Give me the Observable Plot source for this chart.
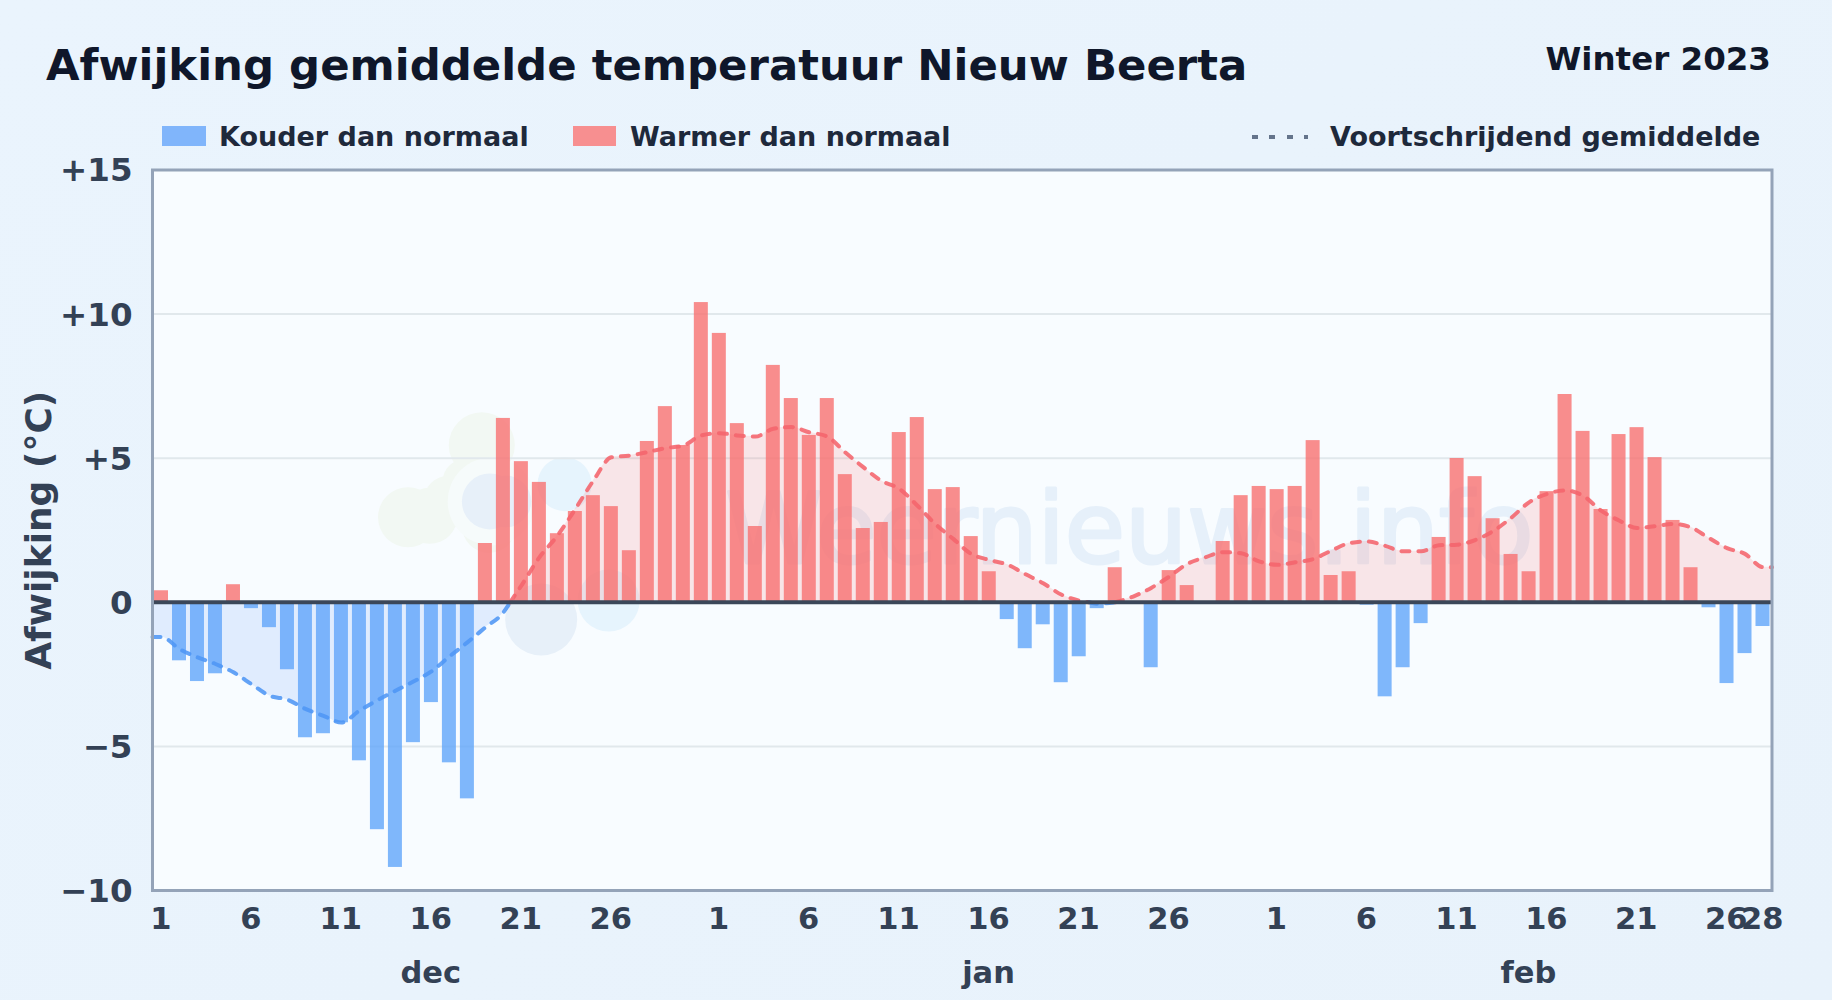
<!DOCTYPE html>
<html><head><meta charset="utf-8">
<script src="https://cdn.jsdelivr.net/npm/d3@7"></script>
<script src="https://cdn.jsdelivr.net/npm/@observablehq/plot@0.6"></script>
<style>
html,body{margin:0;padding:0;width:1832px;height:1000px;overflow:hidden}
body{background:linear-gradient(135deg,#eaf4fd,#e8f2fb);font-family:"DejaVu Sans",sans-serif;font-weight:700}
#head{position:relative;height:150px;width:1832px}
#head>*{position:absolute;white-space:nowrap}
#title{left:46px;top:40px;font-size:43.4px;line-height:50px;color:#0f172a}
#season{right:61px;top:40px;font-size:32.5px;line-height:38px;color:#0f172a}
.lg{top:120px;font-size:27px;line-height:34px;color:#1e293b}
.sw{top:126px;height:20px;width:44px}
#dots{left:1252px;top:135px;width:56px;height:4px;background:repeating-linear-gradient(90deg,#64748b 0 6px,transparent 6px 17.5px)}
svg{display:block}
</style></head><body>
<div id="head">
  <div id="title">Afwijking gemiddelde temperatuur Nieuw Beerta</div>
  <div id="season">Winter 2023</div>
  <div class="sw" style="left:162px;background:#80b5fb"></div><div class="lg" style="left:219px">Kouder dan normaal</div>
  <div class="sw" style="left:573px;width:43px;background:#f78f90"></div><div class="lg" style="left:630px">Warmer dan normaal</div>
  <div id="dots"></div><div class="lg" style="left:1330px">Voortschrijdend gemiddelde</div>
</div>
<div id="chart"></div>
<script>
const deviation = [0.4,-2.03,-2.75,-2.48,0.61,-0.22,-0.88,-2.34,-4.7,-4.56,-4.18,-5.5,-7.89,-9.2,-4.87,-3.48,-5.57,-6.82,2.04,6.38,4.88,4.16,2.38,3.15,3.7,3.32,1.79,5.58,6.79,5.44,10.4,
9.33,6.2,2.63,8.22,7.07,5.79,7.07,4.43,2.56,2.77,5.89,6.41,3.91,3.98,2.28,1.06,-0.6,-1.61,-0.78,-2.79,-1.89,-0.22,1.2,0,-2.27,1.1,0.58,0,2.11,3.7,4.02,
3.91,4.02,5.61,0.93,1.06,-0.1,-3.28,-2.27,-0.74,2.25,4.99,4.36,2.9,1.66,1.06,3.84,7.21,5.93,3.22,5.82,6.06,5.02,2.84,1.2,-0.19,-2.82,-1.78,-0.84];
const rolling = [-1.2,-1.62,-1.91,-2.14,-2.43,-2.84,-3.24,-3.38,-3.7,-3.94,-4.17,-3.76,-3.4,-3.07,-2.75,-2.4,-1.88,-1.39,-0.87,-0.35,0.58,1.56,2.31,3.24,4.22,5.03,5.09,5.21,5.35,5.44,5.79,
5.87,5.79,5.75,6.02,6.08,5.9,5.75,5.2,4.69,4.22,3.94,3.36,2.72,2.2,1.68,1.47,1.31,0.98,0.66,0.27,0.06,-0.05,0,0.2,0.5,0.89,1.33,1.56,1.74,1.7,1.42,
1.3,1.39,1.5,1.79,2.05,2.11,1.96,1.77,1.77,1.98,2.0,2.16,2.47,2.93,3.47,3.76,3.88,3.7,3.18,2.84,2.58,2.64,2.72,2.6,2.23,1.88,1.68,1.22];
const dayLabels = ["1","6","11","16","21","26"];
const monthNames = ["dec","jan","feb"];
const monthLengths = [31,31,28];
const monthCentreDays = [16,16,15];
const yTicks = [-10,-5,0,5,10,15];
const gridTicks = [-5,5,10];
const watermark = "Weernieuws.info";

const BLUE="#60a5fa", RED="#f87171";
const bars = deviation.map((v,i)=>({i,v}));
// x position: day index, one unit per day; centres at i+0.5
const centre = i=>i+0.5;
const monthStarts = monthLengths.map((_,m)=>d3.sum(monthLengths.slice(0,m)));
const tickMap = new Map();
monthStarts.forEach((s,m)=>dayLabels.forEach(l=>tickMap.set(centre(s+ +l-1),l)));
tickMap.set(centre(89),"28");
const monthMap = new Map(monthNames.map((n,m)=>[centre(monthStarts[m]+monthCentreDays[m]-1),n]));

// rolling line with sign split, running edge to edge of the frame
const pts = rolling.map((v,i)=>({x:centre(i),v}));
pts.unshift({x:0,v:rolling[0]}); pts.push({x:90,v:rolling[89]});
const segs=[]; let cur=[], sign=pts[0].v<0?-1:1;
for(let k=0;k<pts.length;k++){
  const p=pts[k], s=p.v<0?-1:1;
  if(s!==sign){
    const q=pts[k-1], t=q.v/(q.v-p.v), c={x:q.x+t*(p.x-q.x),v:0};
    cur.push(c); segs.push({sign,pts:cur}); cur=[c]; sign=s;
  }
  cur.push(p);
}
segs.push({sign,pts:cur});

const logo = [
 [14.2,2.95,30,"#f2f8f3"],[15.4,3.0,28,"#f2f8f3"],[18.3,5.45,33,"#f2f8f3"],[17.35,4.2,22,"#f2f8f3"],[16.5,3.5,26,"#f2f8f3"],[18.7,2.65,27,"#f2f8f3"],
 [18.85,3.5,44,"#f6fbfb"],
 [18.75,3.5,28,"#e7f0f9"],[19.6,3.5,26,"#e7f0f9"],
 [21.6,-0.6,36,"#e7f0f9"],
 [22.9,4.1,27,"#e6f4fd"],[25.35,0.06,31,"#e6f4fd"]
];

const font={fontFamily:"DejaVu Sans",fontWeight:700,fill:"#334155"};
const plot = Plot.plot({
  width:1832,height:850,
  marginLeft:152,marginRight:60.5,marginTop:19.5,marginBottom:110,
  style:{background:"transparent",fontFamily:"DejaVu Sans",overflow:"visible"},
  x:{domain:[0,90],axis:null},
  y:{domain:[-10,15],axis:null},
  marks:[
    Plot.frame({fill:"#f8fcff",stroke:null}),
    Plot.text([watermark],{frameAnchor:"middle",dx:167,dy:1,fontSize:98,fontWeight:400,fill:"#e6f0fa",stroke:"#e6f0fa",strokeWidth:3,fontFamily:"DejaVu Sans"}),
    ...logo.map(([x,y,r,fill])=>Plot.dot([{x,y}],{x:"x",y:"y",r,fill,stroke:null})),
    Plot.ruleY(gridTicks,{stroke:"#e1e8ec",strokeWidth:2}),
    ...segs.map(s=>Plot.areaY(s.pts,{x:"x",y1:0,y2:"v",curve:"monotone-x",fill:s.sign<0?"#3b82f6":"#f87171",fillOpacity:s.sign<0?0.13:0.16})),
    Plot.rect(bars.filter(d=>d.v!==0),{x1:"i",x2:d=>d.i+1,y1:0,y2:"v",insetLeft:2,insetRight:2,fill:d=>d.v<0?BLUE:RED,fillOpacity:0.8}),
    ...segs.map(s=>Plot.line(s.pts,{x:"x",y:"v",curve:"monotone-x",stroke:s.sign<0?"#4f96f5":"#f4646c",strokeOpacity:0.88,strokeWidth:4,strokeLinecap:"round",strokeDasharray:"8 9"})),
    Plot.ruleY([0],{stroke:"#3b4759",strokeWidth:4}),
    Plot.frame({stroke:"#94a3b8",strokeWidth:3}),
    Plot.axisY({ticks:yTicks,tickSize:0,tickPadding:20,dy:1,label:null,fontSize:32.5,tickFormat:d=>d>0?"+"+d:d<0?"\u2212"+(-d):"0",...font}),
    Plot.text(["Afwijking (°C)"],{frameAnchor:"left",textAnchor:"middle",dx:-113,rotate:-90,fontSize:36,...font}),
    Plot.axisX({ticks:[...tickMap.keys()],tickSize:0,tickPadding:17,dx:-0.7,label:null,fontSize:30.5,tickFormat:d=>tickMap.get(d),...font}),
    Plot.axisX({ticks:[...monthMap.keys()],tickSize:0,tickPadding:71,dx:-0.7,label:null,fontSize:30.5,tickFormat:d=>monthMap.get(d),...font})
  ]
});
document.getElementById("chart").appendChild(plot);
</script>
</body></html>
